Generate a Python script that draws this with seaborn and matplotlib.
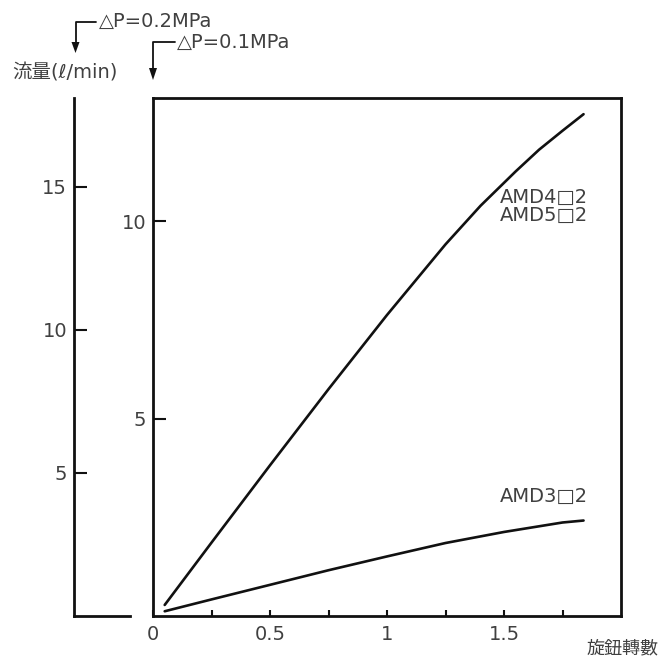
import numpy as np
import pandas as pd
import matplotlib
matplotlib.use("Agg")
import matplotlib.pyplot as plt
from matplotlib.patches import Polygon
from matplotlib.lines import Line2D
import seaborn as sns

# ---- data (turns of knob vs flow at dP=0.1MPa scale) ----
x_amd45 = [0.05, 0.25, 0.5, 0.75, 1.0, 1.25, 1.4, 1.55, 1.65, 1.75, 1.84]
y_amd45 = [0.28, 1.86, 3.82, 5.75, 7.63, 9.42, 10.4, 11.27, 11.82, 12.3, 12.72]
x_amd3 = [0.05, 0.25, 0.5, 0.75, 1.0, 1.25, 1.5, 1.75, 1.84]
y_amd3 = [0.12, 0.42, 0.79, 1.16, 1.51, 1.85, 2.13, 2.37, 2.42]

x_ticks = [0, 0.5, 1, 1.5]
x_ticklabels = ["0", "0.5", "1", "1.5"]
x_minor = [0.25, 0.75, 1.25, 1.75]
y_inner_ticks = [5, 10]
y_outer_ticks = [5, 10, 15]

df = pd.concat([
    pd.DataFrame({"x": x_amd45, "y": y_amd45, "s": "AMD4/5"}),
    pd.DataFrame({"x": x_amd3, "y": y_amd3, "s": "AMD3"}),
])

sns.set_style("white")
FAM = ["DejaVu Sans", "Noto Sans CJK JP"]
CJK = ["Noto Sans CJK JP", "DejaVu Sans"]
plt.rcParams["font.family"] = FAM
TXT = "#404040"
FS = 14

W, H = 659, 657
fig = plt.figure(figsize=(W / 100, H / 100), dpi=100)

def fx(px):
    return px / W

def fy(py):
    return 1 - py / H

top, bot = 98, 616
ax = fig.add_axes([fx(153), fy(bot), (621 - 153) / W, (bot - top) / H])
sns.lineplot(data=df, x="x", y="y", units="s", estimator=None, color="#111111",
             lw=1.9, ax=ax, legend=False, sort=False)
ax.set_xlim(0, 2.0)
ax.set_ylim(0, 13.13)
ax.set_xlabel("")
ax.set_ylabel("")
for sp in ax.spines.values():
    sp.set_visible(True)
    sp.set_color("#111111")
    sp.set_linewidth(2.0)
ax.set_xticks(x_ticks)
ax.set_xticklabels(x_ticklabels)
ax.set_xticks(x_minor, minor=True)
ax.set_yticks(y_inner_ticks)
ax.set_yticklabels([str(v) for v in y_inner_ticks])
ax.tick_params(axis="x", which="both", direction="in", length=4.5, width=1.5,
               color="#111111", labelsize=FS, labelcolor=TXT, pad=6.5, bottom=True)
ax.tick_params(axis="y", which="both", direction="in", length=9.5, width=1.5,
               color="#111111", labelsize=FS, labelcolor=TXT, pad=5, left=True)

# outer axis for dP=0.2MPa
ax2 = fig.add_axes([fx(74), fy(bot), (130 - 74) / W, (bot - top) / H])
ax2.set_facecolor("none")
ax2.set_ylim(0, 18.1)
ax2.set_xlim(0, 1)
ax2.set_xticks([])
ax2.set_yticks(y_outer_ticks)
ax2.set_yticklabels([str(v) for v in y_outer_ticks])
for k in ["top", "right"]:
    ax2.spines[k].set_visible(False)
for k in ["left", "bottom"]:
    ax2.spines[k].set_visible(True)
    ax2.spines[k].set_color("#111111")
    ax2.spines[k].set_linewidth(2.0)
ax2.tick_params(axis="y", direction="in", length=9.5, width=1.5, color="#111111",
                labelsize=FS, labelcolor=TXT, pad=5, left=True)

# texts
fig.text(fx(12), fy(72.5), "流量(ℓ/min)", fontsize=FS, color=TXT, ha="left", va="center", family=FAM)
fig.text(fx(99), fy(21.5), "△P=0.2MPa", fontsize=FS, color=TXT, ha="left", va="center", family=FAM)
fig.text(fx(177), fy(42.5), "△P=0.1MPa", fontsize=FS, color=TXT, ha="left", va="center", family=FAM)
fig.text(fx(587), fy(648), "旋鈕轉數", fontsize=13, color=TXT, ha="left", va="center", family=CJK)
fig.text(fx(500), fy(197), "AMD4□2", fontsize=FS, color=TXT, ha="left", va="center", family=FAM)
fig.text(fx(500), fy(215), "AMD5□2", fontsize=FS, color=TXT, ha="left", va="center", family=FAM)
fig.text(fx(500), fy(496), "AMD3□2", fontsize=FS, color=TXT, ha="left", va="center", family=FAM)

# arrows
def bent_arrow(x0, x1, y0, y1, head=12):
    fig.add_artist(Line2D([fx(x0), fx(x1), fx(x1)], [fy(y0), fy(y0), fy(y1 - head + 2)],
                          transform=fig.transFigure, color="#111111", lw=1.3))
    fig.add_artist(Polygon([[fx(x1 - 4), fy(y1 - head)], [fx(x1 + 4), fy(y1 - head)],
                            [fx(x1), fy(y1)]], closed=True, transform=fig.transFigure,
                           facecolor="#111111", edgecolor="none"))

bent_arrow(96, 75.5, 22.3, 53, head=11)
bent_arrow(175, 153, 41.7, 80, head=12)

fig.savefig("out.png", dpi=100)
